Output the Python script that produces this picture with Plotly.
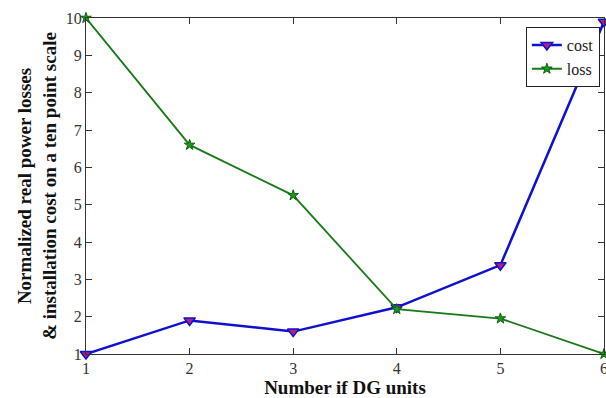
import plotly.graph_objects as go

dg_units = [1, 2, 3, 4, 5, 6]
cost = [1.0, 1.9, 1.6, 2.25, 3.38, 9.9]
loss = [10.0, 6.6, 5.25, 2.2, 1.95, 1.0]
x_ticks = [1, 2, 3, 4, 5, 6]
y_ticks = [1, 2, 3, 4, 5, 6, 7, 8, 9, 10]

fig = go.Figure()
fig.add_trace(go.Scatter(
    x=dg_units, y=cost, name="cost", mode="lines+markers",
    line=dict(color="#1010d0", width=2.5),
    marker=dict(symbol="triangle-down", size=10, color="#b0207a",
                line=dict(color="#1010d0", width=1.5)),
    cliponaxis=False,
))
fig.add_trace(go.Scatter(
    x=dg_units, y=loss, name="loss", mode="lines+markers",
    line=dict(color="#1a7a1a", width=1.8),
    marker=dict(symbol="star", size=8, color="#1a9a1a",
                line=dict(color="#106010", width=1)),
    cliponaxis=False,
))

font_serif = "Liberation Serif, Times New Roman, serif"
fig.update_layout(
    width=606, height=398,
    margin=dict(l=86, r=2, t=18, b=44, autoexpand=False),
    paper_bgcolor="white", plot_bgcolor="white",
    font=dict(family=font_serif, color="#222"),
    showlegend=True,
    legend=dict(x=0.992, y=0.973, xanchor="right", yanchor="top",
                bgcolor="white", bordercolor="#222", borderwidth=1,
                font=dict(size=16, family=font_serif),
                tracegroupgap=0, itemwidth=30),
    xaxis=dict(
        range=[1, 6], tickvals=x_ticks, ticks="inside", ticklen=6,
        showgrid=False, zeroline=False, showline=True, linecolor="#333",
        linewidth=1, mirror="ticks", tickcolor="#333",
        ticklabeloverflow="allow", automargin=False,
        tickfont=dict(size=16, family=font_serif, color="#333"),
        title=dict(text="<b>Number if DG units</b>", standoff=4,
                   font=dict(size=19, family=font_serif, color="#111")),
    ),
    yaxis=dict(
        range=[1, 10], tickvals=y_ticks, ticks="inside", ticklen=6,
        showgrid=False, zeroline=False, showline=True, linecolor="#333",
        linewidth=1, mirror="ticks", tickcolor="#333",
        automargin=False,
        tickfont=dict(size=16, family=font_serif, color="#333"),
        title=dict(text="<b>Normalized real power losses<br>& installation cost on a ten point scale</b>",
                   standoff=4,
                   font=dict(size=19, family=font_serif, color="#111")),
    ),
)

fig.write_html(
    "out.html",
    config={"displayModeBar": False},
    post_script="document.body.style.margin='0';document.body.style.overflow='hidden';",
)
